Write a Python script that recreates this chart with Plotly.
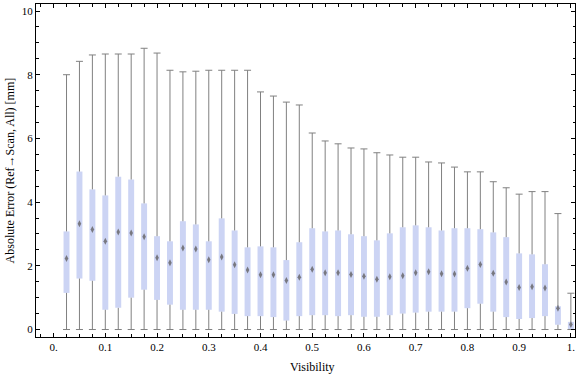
import plotly.graph_objects as go

visibility = [0.025, 0.05, 0.075, 0.1, 0.125, 0.15, 0.175, 0.2, 0.225, 0.25,
              0.275, 0.3, 0.325, 0.35, 0.375, 0.4, 0.425, 0.45, 0.475, 0.5,
              0.525, 0.55, 0.575, 0.6, 0.625, 0.65, 0.675, 0.7, 0.725, 0.75,
              0.775, 0.8, 0.825, 0.85, 0.875, 0.9, 0.925, 0.95, 0.975, 1.0]
whisker_low = [0.0] * 40
q1 = [1.15, 1.60, 1.53, 0.62, 0.68, 1.00, 1.25, 0.93, 0.78, 0.62,
      0.62, 0.62, 0.56, 0.49, 0.42, 0.42, 0.39, 0.28, 0.42, 0.45,
      0.45, 0.42, 0.45, 0.40, 0.40, 0.45, 0.50, 0.53, 0.56, 0.56,
      0.56, 0.67, 0.81, 0.56, 0.39, 0.33, 0.36, 0.42, 0.15, 0.01]
median = [2.23, 3.32, 3.14, 2.77, 3.06, 3.03, 2.91, 2.25, 2.10, 2.56,
          2.53, 2.19, 2.28, 2.03, 1.87, 1.72, 1.72, 1.54, 1.64, 1.89,
          1.78, 1.78, 1.73, 1.67, 1.58, 1.66, 1.69, 1.78, 1.81, 1.75,
          1.74, 1.92, 2.04, 1.77, 1.49, 1.32, 1.34, 1.30, 0.67, 0.16]
q3 = [3.08, 4.96, 4.40, 4.21, 4.80, 4.71, 3.96, 2.93, 2.77, 3.40,
      3.30, 2.77, 3.49, 3.11, 2.58, 2.61, 2.58, 2.18, 2.74, 3.18,
      3.08, 3.11, 2.99, 2.93, 2.80, 3.02, 3.21, 3.27, 3.21, 3.11,
      3.18, 3.18, 3.15, 3.05, 2.90, 2.39, 2.36, 2.05, 0.73, 0.24]
whisker_high = [8.00, 8.42, 8.62, 8.65, 8.65, 8.65, 8.83, 8.68, 8.14, 8.09,
                8.11, 8.14, 8.14, 8.14, 8.14, 7.46, 7.33, 7.14, 7.05, 6.17,
                5.92, 5.83, 5.70, 5.67, 5.55, 5.48, 5.41, 5.41, 5.26, 5.23,
                5.10, 4.95, 4.95, 4.64, 4.45, 4.25, 4.33, 4.33, 3.64, 1.14]

x_tickvals = [0, 0.1, 0.2, 0.3, 0.4, 0.5, 0.6, 0.7, 0.8, 0.9, 1.0]
x_ticktext = ["0.", "0.1", "0.2", "0.3", "0.4", "0.5", "0.6", "0.7", "0.8", "0.9", "1."]
y_tickvals = [0, 2, 4, 6, 8, 10]

BOX_COLOR = "rgb(204,212,244)"
WHISKER_COLOR = "rgb(128,128,128)"
MEDIAN_COLOR = "rgb(120,120,128)"
FONT = "Liberation Serif"

# whisker segments (outside the box)
wx, wy = [], []
for x, lo, a, b, hi in zip(visibility, whisker_low, q1, q3, whisker_high):
    wx += [x, x, None, x, x, None]
    wy += [lo, a, None, b, hi, None]

fig = go.Figure()
fig.add_trace(go.Bar(
    x=visibility, y=[b - a for a, b in zip(q1, q3)], base=q1,
    width=0.0115, marker=dict(color=BOX_COLOR, line=dict(width=0)),
    hoverinfo="skip"))
fig.add_trace(go.Scatter(
    x=wx, y=wy, mode="lines", line=dict(color=WHISKER_COLOR, width=1),
    hoverinfo="skip"))
fig.add_trace(go.Scatter(
    x=visibility + visibility, y=whisker_low + whisker_high, mode="markers",
    marker=dict(symbol="line-ew", size=5, line=dict(color=WHISKER_COLOR, width=1)),
    hoverinfo="skip"))
fig.add_trace(go.Scatter(
    x=visibility, y=median, mode="markers",
    marker=dict(symbol="diamond-tall", size=5, color=MEDIAN_COLOR,
                line=dict(width=0)),
    hoverinfo="skip"))

axis_common = dict(
    showline=True, linecolor="black", linewidth=1, mirror="allticks",
    ticks="inside", tickcolor="black", showgrid=False, zeroline=False,
    automargin=False,
    tickfont=dict(family=FONT, size=11, color="black"),
)

fig.update_layout(
    width=576, height=377,
    margin=dict(l=36, r=1, t=4, b=40),
    paper_bgcolor="white", plot_bgcolor="white",
    showlegend=False, barmode="overlay",
    font=dict(family=FONT, size=12, color="black"),
    xaxis=dict(
        range=[-0.034, 1.008], tickvals=x_tickvals, ticktext=x_ticktext,
        ticklen=4,
        minor=dict(dtick=0.025, tick0=0, ticks="inside", ticklen=3, tickcolor="black", showgrid=False),
        **axis_common),
    yaxis=dict(
        range=[-0.235, 10.22], tickvals=y_tickvals, ticklen=4,
        minor=dict(dtick=0.5, tick0=0, ticks="inside", ticklen=2.5, tickcolor="black", showgrid=False),
        **axis_common),
    annotations=[
        dict(text="Visibility", xref="x", yref="paper", x=0.5, y=-0.09,
             xanchor="center", yanchor="middle", showarrow=False,
             font=dict(family=FONT, size=12, color="black")),
        dict(text="Absolute Error (Ref\u2192Scan, All) [mm]", xref="paper", yref="y",
             x=-0.048, y=5, xanchor="center", yanchor="middle", textangle=-90,
             showarrow=False, font=dict(family=FONT, size=12, color="black")),
    ],
)

fig.write_html("out.html",
               config={"displayModeBar": False},
               post_script="document.body.style.margin='0';document.body.style.overflow='hidden';")
